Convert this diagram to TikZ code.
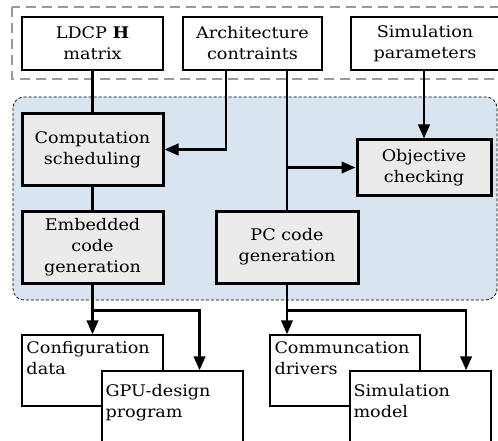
\documentclass[tikz,border=0pt]{standalone}
\usepackage{fontspec}
\setmainfont[FakeStretch=1.1]{DejaVu Serif}
\usetikzlibrary{arrows.meta,calc}
\definecolor{bluebg}{HTML}{D8E5F1}
\definecolor{graybox}{HTML}{EBEBEB}
\definecolor{dashgray}{HTML}{9A9A9A}
\tikzset{
  inbox/.style={draw, line width=1.4pt, fill=white, minimum width=#1, minimum height=53pt, align=center, inner sep=0pt},
  procbox/.style={draw, line width=3pt, fill=graybox, align=center, inner sep=0pt},
  outbox/.style={draw, line width=1.4pt, fill=white, inner sep=0pt},
  outtext/.style={anchor=north west, align=left, inner sep=0pt},
  conn/.style={line width=2.4pt},
  arr/.style={line width=2.4pt, -{Triangle[length=14pt,width=11.5pt]}},
  every node/.style={font=\fontsize{16}{21}\selectfont}
}
\begin{document}
\begin{tikzpicture}[x=1pt,y=-1pt]
\useasboundingbox (0,0) rectangle (498,441);
\clip (0,0) rectangle (498,441);
% blue region
\fill[bluebg, rounded corners=11pt] (13,97) rectangle (497,300);
\draw[dash pattern=on 3pt off 2pt, line width=0.7pt, rounded corners=11pt] (13,97) rectangle (497,300);
% gray dashed input frame
\draw[dashgray, line width=1.8pt, dash pattern=on 10pt off 6pt] (12,7) rectangle (520,79);
% inputs
\node[inbox=141pt] (ldcp) at (92.5,43.5) {LDCP \textbf{H}\\matrix};
\node[inbox=139pt] (arch) at (252.5,43.5) {Architecture\\contraints};
\node[inbox=148pt] (simp) at (425,43.5) {Simulation\\parameters};
% processes
\node[procbox, minimum width=141pt, minimum height=71pt] (comp) at (92.5,149.5) {Computation\\scheduling};
\node[procbox, minimum width=141pt, minimum height=72pt] (emb) at (92.5,247) {Embedded\\code\\generation};
\node[procbox, minimum width=142pt, minimum height=72pt] (pc) at (287,247) {PC code\\generation};
\node[procbox, minimum width=134pt, minimum height=55pt] (obj) at (424,167.5) {Objective\\checking};
% outputs
\node[outbox, minimum width=141pt, minimum height=71pt] (conf) at (92.5,370.5) {};
\node[outtext] (conft) at ($(conf.north west)+(5,7)$) {Configuration\\data};
\node[outbox, minimum width=141pt, minimum height=80pt] (gpu) at (172.5,411) {};
\node[outtext] (gput) at ($(gpu.north west)+(4,14)$) {GPU-design\\program};
\node[outbox, minimum width=150pt, minimum height=71pt] (comm) at (345,370.5) {};
\node[outtext] (commt) at ($(comm.north west)+(5,7)$) {Communcation\\drivers};
\node[outbox, minimum width=141pt, minimum height=80pt] (simm) at (420.5,411) {};
\node[outtext] (simmt) at ($(simm.north west)+(4,14)$) {Simulation\\model};
% connectors
\coordinate (a1) at ($(arch.south west)!0.31!(arch.south east)$);
\coordinate (g1) at ($(gpu.north west)!0.69!(gpu.north east)$);
\coordinate (s1) at ($(simm.north west)!0.82!(simm.north east)$);
\draw[conn] (ldcp.south) -- (comp.north);
\draw[arr] (a1) |- (comp.east);
\draw[conn] (arch.south -| pc.north) -- (pc.north);
\draw[arr] (pc.north |- obj.west) -- (obj.west);
\draw[arr] (simp.south -| obj.north) -- (obj.north);
\draw[conn] (comp.south) -- (emb.north);
\draw[arr] (emb.south) -- (conf.north);
\draw[arr] (emb.south) -- ++(0,26) -| (g1);
\draw[arr] (pc.south) -- (pc.south |- comm.north);
\draw[arr] (pc.south) -- ++(0,26) -| (s1);
\end{tikzpicture}
\end{document}
